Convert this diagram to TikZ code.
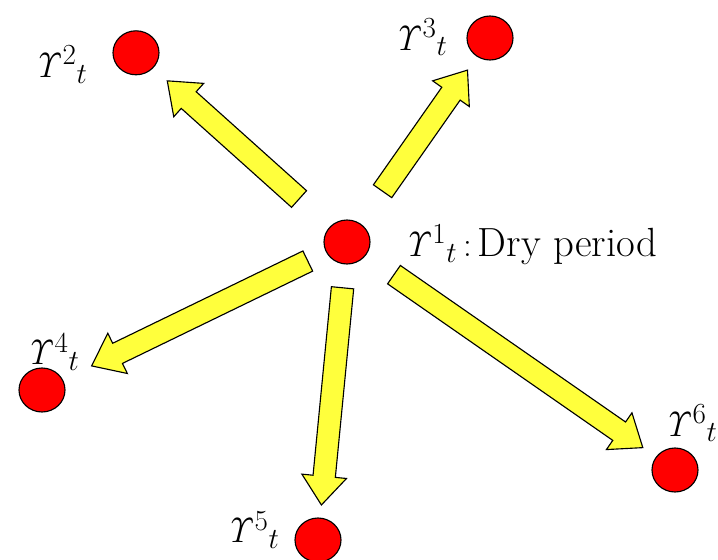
\documentclass[tikz,border=0pt]{standalone}
\usepackage{amsmath}
\usepackage{tikz}
\usetikzlibrary{calc,shapes.geometric}

\definecolor{arrowyellow}{RGB}{255,255,60}
\newcommand{\Yv}[1]{$\mathit{\Upsilon}^{#1}{}_{t}$}

\begin{document}
\begin{tikzpicture}[
dot/.style={ellipse,draw=black,fill=red,line width=0.8pt,minimum width=1.15cm,minimum height=1.1cm,inner sep=0pt},
lbl/.style={font=\fontsize{24.88}{30}\selectfont,inner sep=0pt},
blockarrow/.style 2 args={draw=black,fill=arrowyellow,line width=0.8pt,line join=miter,
  to path={
    ($(\tikztostart)!#1!(\tikztotarget)$) coordinate (ba-t)
    ($(\tikztotarget)!#2!(\tikztostart)$) coordinate (ba-h)
    ($(ba-h)!0.72cm!(ba-t)$) coordinate (ba-n)
    ($(ba-t)!0.28cm!90:(ba-h)$) -- ($(ba-n)!0.28cm!-90:(ba-t)$)
    -- ($(ba-n)!0.56cm!-90:(ba-t)$) -- (ba-h)
    -- ($(ba-n)!0.56cm!90:(ba-t)$) -- ($(ba-n)!0.28cm!90:(ba-t)$)
    -- ($(ba-t)!0.28cm!-90:(ba-h)$) -- cycle}} ]

\useasboundingbox (0,0) rectangle (17.95,-14);

% circles
\node[dot] (c1) at (8.675,-6.05) {};
\node[dot] (c2) at (3.4,-1.32) {};
\node[dot] (c3) at (12.25,-0.95) {};
\node[dot] (c4) at (1.05,-9.75) {};
\node[dot] (c5) at (7.95,-13.5) {};
\node[dot] (c6) at (16.875,-11.75) {};

% labels
\node[lbl,anchor=west] (l1) at (10.05,-6.12) {\Yv{1}\,:\,{\fontsize{29}{34}\selectfont Dry period}};
\node[lbl] (l2) at (1.5,-1.62) {\Yv{2}};
\node[lbl] (l3) at (10.5,-0.93) {\Yv{3}};
\node[lbl] (l4) at (1.3,-8.8) {\Yv{4}};
\node[lbl] (l5) at (6.3,-13.25) {\Yv{5}};
\node[lbl] (l6) at (17.25,-10.58) {\Yv{6}};

% arrows
\draw[blockarrow={1.61cm}{1.05cm}] (c1) to (c2);
\draw[blockarrow={1.55cm}{0.98cm}] (c1) to (c3);
\draw[blockarrow={1.09cm}{1.38cm}] (c1) to (c4);
\draw[blockarrow={1.15cm}{0.88cm}] (c1) to (c5);
\draw[blockarrow={1.43cm}{0.98cm}] (c1) to (c6);

\end{tikzpicture}
\end{document}
